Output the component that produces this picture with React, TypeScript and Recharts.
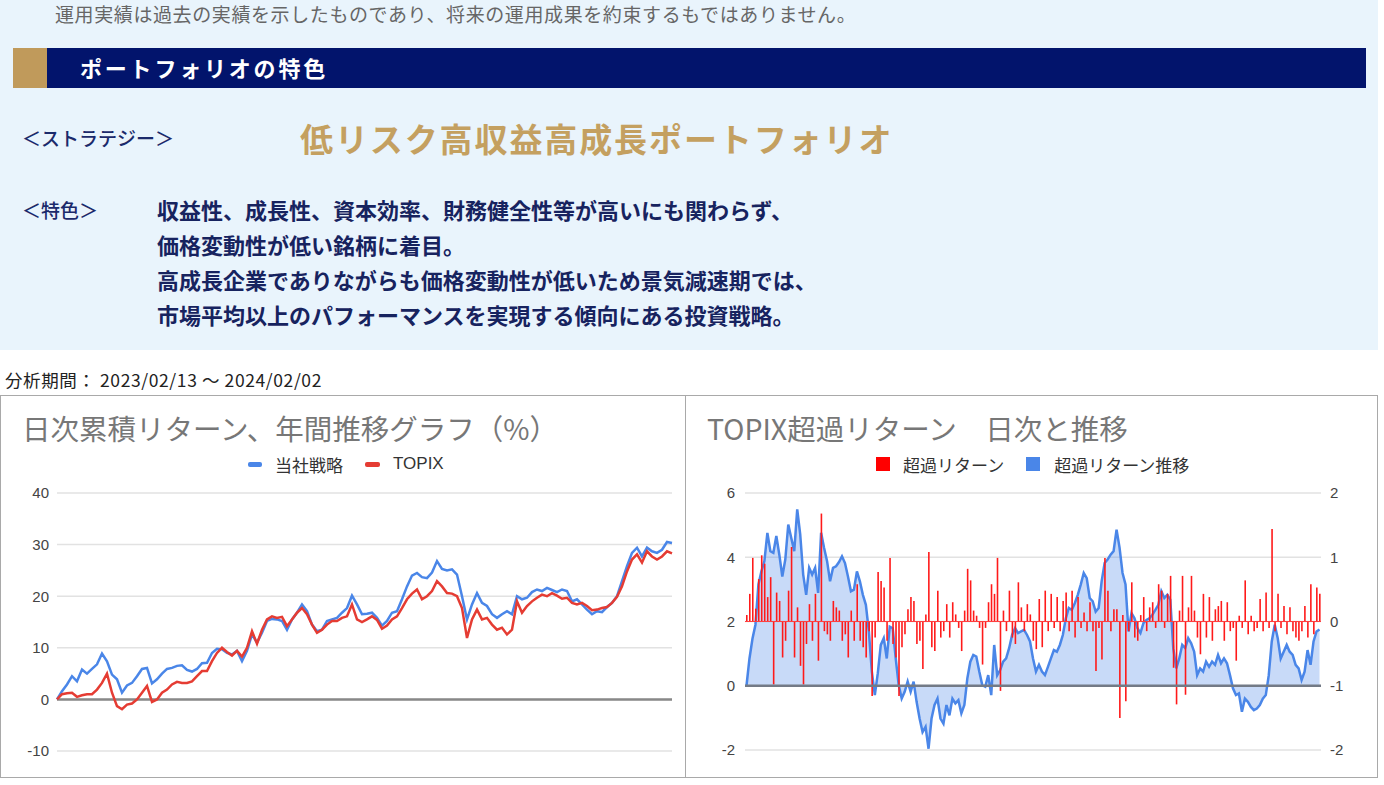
import React from 'react';
import {
  LineChart,
  Line,
  XAxis,
  YAxis,
  CartesianGrid,
  ReferenceLine,
  ComposedChart,
  Bar,
  Area,
} from 'recharts';

// ---- Left chart: cumulative daily return (%) ----
const strategy = [
  0, 1.6, 2.9, 4.5, 3.5, 5.8, 5.0, 5.9, 6.8, 8.9, 7.4, 4.8, 3.9, 1.3, 2.7, 3.2, 4.5, 5.9, 6.1, 3.1,
  3.9, 5.0, 5.9, 6.1, 6.5, 6.6, 5.7, 5.4, 5.9, 7.0, 7.1, 9.0, 9.8, 9.7, 9.0, 8.7, 9.4, 7.4, 9.4, 12.6,
  11.0, 12.9, 15.2, 15.6, 15.5, 15.2, 13.5, 15.5, 16.8, 18.4, 17.1, 14.5, 13.2, 13.5, 15.2, 15.5, 15.8, 16.8, 17.7, 20.1,
  18.4, 16.5,
  16.6, 16.8, 15.8, 14.3, 15.2, 16.8, 17.1, 19.4, 21.9, 24.0, 24.5, 23.7, 23.5, 24.6, 26.8, 25.3, 25.0, 25.2,
  24.2, 20.0, 15.5, 18.4, 20.6, 18.7, 18.1, 16.5, 15.8, 16.5, 17.1, 16.5, 20.0, 19.4, 19.7, 20.8, 21.3, 21.0,
  21.6, 21.2, 20.8, 21.3, 21.0, 19.0, 19.4, 18.4, 17.4, 16.5, 17.1, 16.9, 17.9, 18.7, 20.0, 22.9, 25.8, 28.4,
  29.4, 27.7, 29.4, 28.7, 28.4, 29.0, 30.5, 30.3,
];
const topix = [
  0, 1.0, 1.2, 1.3, 0.5, 0.8, 1.0, 1.0, 1.9, 3.2, 5.0, 1.3, -1.3, -1.9, -1.0, -0.8, 0.0, 1.3, 2.6, -0.5,
  0.0, 1.3, 1.9, 2.9, 3.4, 3.2, 3.2, 3.5, 4.5, 5.5, 5.5, 7.4, 9.0, 10.0, 9.2, 8.5, 9.4, 8.3, 10.0, 13.2,
  10.8, 13.5, 15.5, 16.1, 15.8, 16.0, 14.2, 15.5, 16.8, 17.7, 16.5, 14.5, 12.9, 13.5, 14.5, 15.2, 15.2, 15.8, 16.1, 18.4,
  15.5, 15.0,
  15.5, 16.1, 15.4, 13.7, 14.3, 15.5, 16.1, 17.7, 19.4, 20.5, 21.3, 19.4, 20.0, 21.0, 22.9, 21.9, 20.6, 20.5,
  20.0, 17.7, 11.9, 15.5, 17.4, 15.5, 15.8, 14.5, 13.5, 13.9, 12.6, 13.5, 19.0, 16.8, 18.1, 19.0, 19.7, 20.3,
  20.0, 20.6, 20.1, 19.5, 19.7, 18.7, 18.4, 18.7, 18.1, 17.3, 17.4, 17.7, 17.9, 18.7, 19.9, 21.9, 24.8, 27.1,
  28.1, 26.5, 28.7, 27.7, 27.1, 27.7, 28.7, 28.3,
];
const leftTicks = [-10, 0, 10, 20, 30, 40];

// ---- Right chart: excess return vs TOPIX ----
const excessDaily = [
  0.1, 0.43, 0.99, 0.2, 0.66, 1.03, 0.9, 0.38, 0.69, -0.98, 0.45, 0.32, -0.56, -0.3, 0.48, 1.16, -0.56, 0.22, -0.69, -0.98,
  -0.35, 0.27, -0.3, 0.43, -0.61, 1.68, -0.15, -0.2, -0.3, 0.32, 0.22, 0.17, -0.3, -0.2, -0.56, 0.17, -0.3, 0.58, -0.3, -0.4,
  -0.56, -0.15, -1.16, -0.25, 0.77, 0.63, 0.53, -0.3, 0.99, -0.35, -0.56, -1.16, -0.4, -0.2, 0.19, 0.38, 0.32, -0.35, -0.3, -0.74,
  0.11, 1.08, -0.4, -0.46, 0.48, -0.25, -0.15, 0.27, -0.25, 0.3, 0.11, -0.1, -0.46, 0.17, 0.82, 0.64, 0.17, 0.09, -0.1, -0.67,
  -0.1, 0.3, 0.58, 0.43, 0.99, -1.08, 0.17, -0.15, 0.48, -0.25, -0.35, 0.61, 0.22, -0.15, 0.27, 0.11, -0.3, -0.43, 0.35, -0.4,
  0.48, -0.15, 0.43, -0.1, 0.38, -0.15, 0.32, 0.45, -0.15, 0.48, -0.25, 0.38, -0.1, 0.14, -0.15, 0.3, -0.15, -0.77, -0.1, -0.59,
  0.99, 0.48, -0.15, 0.19, 0.19, -1.5, 0.1, -1.24, -0.15, 0.61, -0.25, -0.3, 0.1, 0.38, -0.15, 0.22, 0.3, -0.1, 0.58, 0.48,
  -0.1, 0.43, 0.71, -0.72, -1.29, 0.17, 0.71, -1.14, 0.22, 0.71, 0.17, -0.25, -0.51, 0.43, -0.25, 0.38, -0.3, 0.19, 0.24, 0.32,
  -0.3, 0.3, -0.15, -0.1, -0.61, 0.09, -0.1, 0.64, -0.2, 0.09, -0.15, -0.1, 0.35, -0.15, 0.45, -0.1, 1.44, -0.15, 0.43, -0.1,
  0.24, -0.2, 0.22, -0.15, -0.25, -0.3, -0.15, 0.24, -0.25, 0.58, -0.2, 0.53, 0.43,
];
const excessCum = [
  0, 0.85, 1.46, 1.9, 3.15, 3.56, 3.88, 4.76, 4.19, 4.14, 4.66, 4.08, 3.4, 3.93, 5.02, 4.6, 4.19, 5.49, 4.71, 3.46,
  2.83, 3.67, 3.46, 3.67, 2.89, 4.76, 4.29, 3.88, 3.25, 3.67, 3.72, 3.85, 4.03, 3.82, 3.4, 2.94, 2.99, 3.56, 3.25, 2.83,
  2.52, 1.69, 0.44, -0.29, 0.39, 1.27, 1.48, 0.85, 1.84, 1.79, 0.85, 0.02, -0.4, -0.19, 0.13, -0.19, 0.13, -0.5, -1.02, -1.44,
  -1.28, -1.96, -1.02, -0.6, -0.4, -1.02, -1.18, -0.6, -0.92, -0.4, -0.55, -0.45, -0.86, -0.6, 0.23, 0.75, 0.96, 0.91, 0.44, 0.02,
  -0.03, 0.33, -0.29, 1.27, 0.33, 0.49, 0.75, 0.85, 1.17, 1.58, 1.79, 1.64, 1.69, 1.74, 1.58, 1.38, 0.85, 0.44, 0.65, 0.44,
  0.33, 0.59, 0.85, 1.11, 1.06, 1.27, 1.58, 2.1, 2.42, 2.36, 2.57, 2.83, 3.15, 3.51, 3.35, 2.73, 2.63, 2.31, 2.42, 3.25,
  3.82, 3.93, 4.08, 4.19, 4.86, 4.3, 3.51, 3.15, 1.69, 2.26, 2.1, 1.79, 1.64, 1.95, 2.05, 2.1, 2.21, 2.36, 2.52, 2.94,
  2.73, 2.83, 2.68, 1.17, 0.54, 0.85, 1.27, 1.17, 1.48, 1.32, 1.06, 0.33, 0.54, 0.44, 0.75, 0.59, 0.75, 0.65, 0.96, 0.7,
  0.85, 0.7, 0.33, -0.08, -0.29, -0.24, -0.81, -0.4, -0.5, -0.66, -0.76, -0.71, -0.6, -0.4, -0.29, 0.33, 1.38, 1.9, 1.48, 0.85,
  1.06, 1.27, 1.06, 0.96, 0.65, 0.54, 0.18, 0.44, 1.11, 0.65, 1.38, 1.69, 1.75,
];
const excessLeftTicks = [-2, 0, 2, 4, 6];
const excessRightTicks = [-2, -1, 0, 1, 2];

const bodyLines = [
  '収益性、成長性、資本効率、財務健全性等が高いにも関わらず、',
  '価格変動性が低い銘柄に着目。',
  '高成長企業でありながらも価格変動性が低いため景気減速期では、',
  '市場平均以上のパフォーマンスを実現する傾向にある投資戦略。',
];

const JP = '"Noto Sans CJK JP", "Noto Sans", sans-serif';
const AR = '"Liberation Sans", Arial, sans-serif';

const leftData = strategy.map((v, i) => ({ i, strategy: v, topix: topix[i] }));
const rightData = excessCum.map((v, k) => ({ k, cum: v, daily: excessDaily[k] }));

const Txt: React.FC<{ x: number; cy: number; size: number; style?: React.CSSProperties; children: React.ReactNode }> = ({ x, cy, size, style, children }) => (
  <div
    style={{
      position: 'absolute',
      left: x,
      top: cy - size * 0.62,
      fontSize: size,
      lineHeight: `${Math.round(size * 1.24)}px`,
      whiteSpace: 'nowrap',
      fontFamily: JP,
      ...style,
    }}
  >
    {children}
  </div>
);

const tickStyle = { fill: '#444', fontSize: 15, fontFamily: AR };

export default function App() {
  return (
    <div style={{ position: 'absolute', left: 0, top: 0, width: 1384, height: 785, background: '#fff', overflow: 'hidden', fontFamily: JP }}>
      {/* light blue info panel */}
      <div style={{ position: 'absolute', left: 0, top: 0, width: 1378, height: 350, background: '#e9f4fc' }} />
      <div
        style={{
          position: 'absolute',
          left: 55,
          top: 0,
          fontSize: 19,
          lineHeight: '28px',
          letterSpacing: 0.6,
          whiteSpace: 'nowrap',
          color: '#666',
          fontFamily: JP,
        }}
      >
        運用実績は過去の実績を示したものであり、将来の運用成果を約束するもではありません。
      </div>
      {/* section header bar */}
      <div style={{ position: 'absolute', left: 13, top: 48, width: 34, height: 40, background: '#c09a5b' }} />
      <div style={{ position: 'absolute', left: 47, top: 48, width: 1319, height: 40, background: '#02146c' }} />
      <Txt x={80} cy={68} size={22} style={{ color: '#fff', fontWeight: 700, letterSpacing: 2.8 }}>
        ポートフォリオの特色
      </Txt>
      <Txt x={22} cy={138} size={19} style={{ color: '#1b2a6b', fontWeight: 500 }}>
        ＜ストラテジー＞
      </Txt>
      <Txt x={300} cy={138} size={33} style={{ color: '#c4a060', fontWeight: 700, letterSpacing: 1.9 }}>
        低リスク高収益高成長ポートフォリオ
      </Txt>
      <Txt x={22} cy={210} size={19} style={{ color: '#1b2a6b', fontWeight: 500 }}>
        ＜特色＞
      </Txt>
      {bodyLines.map((t, n) => (
        <Txt key={n} x={157} cy={210 + n * 35} size={22} style={{ color: '#17235f', fontWeight: 700 }}>
          {t}
        </Txt>
      ))}
      <Txt x={5} cy={380} size={17.5} style={{ color: '#222', letterSpacing: 0.6 }}>
        分析期間： 2023/02/13 ～ 2024/02/02
      </Txt>

      {/* chart frames */}
      <div style={{ position: 'absolute', left: 0, top: 395, width: 686, height: 383, border: '1px solid #a9a9a9', boxSizing: 'border-box' }} />
      <div style={{ position: 'absolute', left: 685, top: 395, width: 693, height: 383, border: '1px solid #a9a9a9', boxSizing: 'border-box' }} />

      {/* left chart */}
      <Txt x={22} cy={428} size={28.5} style={{ color: '#777' }}>
        日次累積リターン、年間推移グラフ（%）
      </Txt>
      <div style={{ position: 'absolute', left: 248, top: 453, height: 22, display: 'flex', alignItems: 'center', fontSize: 17, color: '#333' }}>
        <span style={{ width: 14, height: 5, borderRadius: 2, background: '#4a86e8', marginRight: 13 }} />
        <span style={{ fontFamily: JP, marginRight: 22 }}>当社戦略</span>
        <span style={{ width: 15, height: 5, borderRadius: 2, background: '#e53c33', marginRight: 13 }} />
        <span style={{ fontFamily: AR }}>TOPIX</span>
      </div>
      <div style={{ position: 'absolute', left: 0, top: 395 }}>
        <LineChart width={686} height={383} data={leftData} margin={{ top: 98, right: 14, bottom: 27, left: 0 }}>
          <CartesianGrid vertical={false} stroke="#e2e2e2" strokeWidth={1.5} />
          <XAxis dataKey="i" hide />
          <YAxis
            domain={[-10, 40]}
            ticks={leftTicks}
            width={57}
            axisLine={false}
            tickLine={false}
            tick={tickStyle}
            interval={0}
          />
          <ReferenceLine y={0} stroke="#888" strokeWidth={2.5} />
          <Line type="linear" dataKey="strategy" stroke="#4a86e8" strokeWidth={2.5} dot={false} isAnimationActive={false} />
          <Line type="linear" dataKey="topix" stroke="#e53c33" strokeWidth={2.5} dot={false} isAnimationActive={false} />
        </LineChart>
      </div>

      {/* right chart */}
      <Txt x={707} cy={428} size={28.5} style={{ color: '#777' }}>
        TOPIX超過リターン　日次と推移
      </Txt>
      <div style={{ position: 'absolute', left: 876, top: 452, height: 24, display: 'flex', alignItems: 'center', fontSize: 17, color: '#333' }}>
        <span style={{ width: 14, height: 14, background: '#ff0000', marginRight: 13 }} />
        <span style={{ fontFamily: JP, marginRight: 22 }}>超過リターン</span>
        <span style={{ width: 14, height: 14, background: '#4a86e8', marginRight: 14 }} />
        <span style={{ fontFamily: JP }}>超過リターン推移</span>
      </div>
      <div style={{ position: 'absolute', left: 686, top: 395 }}>
        <ComposedChart
          width={692}
          height={383}
          data={rightData}
          margin={{ top: 98, right: 0, bottom: 28, left: 0 }}
          barCategoryGap={0}
          barGap={0}
        >
          <CartesianGrid vertical={false} yAxisId="L" stroke="#e2e2e2" strokeWidth={1.5} />
          <XAxis dataKey="k" hide />
          <YAxis
            yAxisId="L"
            orientation="left"
            domain={[-2, 6]}
            ticks={excessLeftTicks}
            width={59}
            axisLine={false}
            tickLine={false}
            tickMargin={4}
            tick={tickStyle}
            interval={0}
          />
          <YAxis
            yAxisId="R"
            orientation="right"
            domain={[-2, 2]}
            ticks={excessRightTicks}
            width={57}
            axisLine={false}
            tickLine={false}
            tickMargin={3}
            tick={{ ...tickStyle, textAnchor: 'start' }}
            interval={0}
          />
          <ReferenceLine yAxisId="R" y={0} stroke="#ff4040" strokeWidth={1.2} />
          <Bar yAxisId="R" dataKey="daily" fill="#ff1a1a" barSize={1.6} isAnimationActive={false} />
          <Area
            yAxisId="L"
            type="linear"
            dataKey="cum"
            stroke="#4a86e8"
            strokeWidth={2.5}
            fill="#4a86e8"
            fillOpacity={0.3}
            dot={false}
            activeDot={false}
            isAnimationActive={false}
          />
          <ReferenceLine yAxisId="L" y={0} stroke="#737a86" strokeWidth={2.5} />
        </ComposedChart>
      </div>
    </div>
  );
}
